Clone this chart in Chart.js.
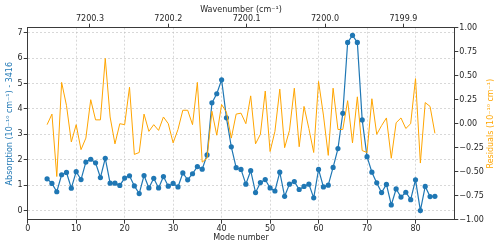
<!DOCTYPE html>
<html>
<head>
<meta charset="utf-8">
<script src="https://cdn.jsdelivr.net/npm/chart.js@4"></script>
<style>
  html, body { margin: 0; padding: 0; background: #fff; }
  canvas { display: block; }
</style>
</head>
<body>
<canvas id="modeChart" width="500" height="246"></canvas>
<script>
// values
const modes = [4, 5, 6, 7, 8, 9, 10, 11, 12, 13, 14, 15, 16, 17, 18, 19, 20, 21, 22, 23, 24,
  25, 26, 27, 28, 29, 30, 31, 32, 33, 34, 35, 36, 37, 38, 39, 40, 41, 42, 43, 44, 45, 46,
  47, 48, 49, 50, 51, 52, 53, 54, 55, 56, 57, 58, 59, 60, 61, 62, 63, 64, 65, 66, 67, 68,
  69, 70, 71, 72, 73, 74, 75, 76, 77, 78, 79, 80, 81, 82, 83, 84];
const absorption = [1.25, 1.07, 0.74, 1.41, 1.50, 0.88, 1.53, 1.22, 1.91, 2.02, 1.88, 1.30,
  2.06, 1.08, 1.08, 0.99, 1.28, 1.37, 0.97, 0.67, 1.38, 0.89, 1.27, 0.89, 1.34, 0.96, 1.07,
  0.93, 1.48, 1.21, 1.45, 1.73, 1.63, 2.19, 4.24, 4.60, 5.15, 3.65, 2.51, 1.69, 1.62, 1.04,
  1.57, 0.71, 1.10, 1.22, 0.89, 0.77, 1.51, 0.56, 1.04, 1.14, 0.83, 0.95, 1.04, 0.50, 1.62,
  0.93, 1.00, 1.70, 2.44, 3.83, 6.62, 6.90, 6.62, 3.57, 2.12, 1.51, 1.09, 0.71, 1.03, 0.22,
  0.85, 0.53, 0.72, 0.43, 1.21, 0.00, 0.95, 0.55, 0.56];
const residuals = [-0.01, 0.10, -0.55, 0.43, 0.19, -0.19, -0.01, -0.27, -0.15, 0.25, 0.04,
  0.04, 0.68, 0.07, -0.21, 0.00, -0.01, 0.38, -0.32, -0.30, 0.10, -0.08, -0.01, -0.07, 0.07,
  0.00, -0.20, -0.06, 0.14, 0.14, -0.01, 0.43, -0.40, -0.36, 0.13, -0.12, 0.20, 0.12, -0.15,
  0.10, 0.11, 0.00, 0.29, -0.21, -0.11, 0.34, -0.29, -0.08, 0.36, -0.25, -0.07, 0.37, -0.24,
  0.18, -0.05, -0.30, 0.44, 0.09, -0.33, 0.37, -0.06, -0.06, 0.24, -0.20, 0.28, -0.28, -0.30,
  0.26, -0.11, -0.02, 0.06, -0.36, 0.01, 0.06, -0.05, 0.00, 0.47, -0.41, 0.22, 0.18, -0.10];

const modeTicks = [0, 10, 20, 30, 40, 50, 60, 70, 80];
const absTicks = [0, 1, 2, 3, 4, 5, 6, 7];
const resTicks = [-1, -0.75, -0.5, -0.25, 0, 0.25, 0.5, 0.75, 1];
const waveTicks = [7200.3, 7200.2, 7200.1, 7200.0, 7199.9];

const blue = '#1f77b4';
const orange = '#ffa500';
const ink = '#262626';
const spine = '#3a3a3a';
const font = { family: 'DejaVu Sans', size: 8 };

function useTicks(list) {
  return function(scale) { scale.ticks = list.map(v => ({ value: v })); };
}
const minus = s => s.replace('-', '\u2212');

// right hand label reads bottom to top, like matplotlib
const residualLabel = {
  id: 'residualLabel',
  afterDraw(chart) {
    const ctx = chart.ctx, a = chart.chartArea;
    ctx.save();
    ctx.translate(490.5, (a.top + a.bottom) / 2);
    ctx.rotate(-Math.PI / 2);
    ctx.font = '8px "DejaVu Sans"';
    ctx.fillStyle = orange;
    ctx.textAlign = 'center';
    ctx.textBaseline = 'middle';
    ctx.fillText('Residuals (10\u207B\u00B9\u2070 cm\u207B\u00B9)', 0, 0);
    ctx.restore();
  }
};

const ctx = document.getElementById('modeChart').getContext('2d');
new Chart(ctx, {
  type: 'line',
  data: {
    datasets: [{
      label: 'Residuals',
      data: modes.map((m, i) => ({ x: m, y: residuals[i] })),
      xAxisID: 'x',
      yAxisID: 'y2',
      borderColor: orange,
      borderWidth: 1,
      pointRadius: 0,
      tension: 0,
      order: 0
    }, {
      label: 'Absorption',
      data: modes.map((m, i) => ({ x: m, y: absorption[i] })),
      xAxisID: 'x',
      yAxisID: 'y',
      borderColor: blue,
      backgroundColor: blue,
      borderWidth: 1.2,
      pointRadius: 2.6,
      pointBorderWidth: 0,
      pointBackgroundColor: blue,
      tension: 0,
      order: 1
    }]
  },
  options: {
    responsive: false,
    animation: false,
    events: [],
    layout: { padding: 0 },
    plugins: { legend: { display: false }, tooltip: { enabled: false } },
    scales: {
      x: {
        type: 'linear', position: 'bottom', min: 0, max: 88,
        afterBuildTicks: useTicks(modeTicks),
        afterFit: s => { s.height = 26.3; },
        grid: { color: 'rgba(190,190,190,0.6)', tickLength: 4, tickColor: spine, tickWidth: 1 },
        border: { color: spine, width: 1, dash: [2, 2] },
        ticks: { font: font, color: ink, padding: 0, maxRotation: 0 },
        title: { display: true, text: 'Mode number', font: font, color: ink, padding: { top: 0, bottom: 3 } }
      },
      x2: {
        type: 'linear', position: 'top', min: 7199.835, max: 7200.3795, reverse: true,
        afterBuildTicks: useTicks(waveTicks),
        afterFit: s => { s.height = 27.7; },
        grid: { drawOnChartArea: false, tickLength: 4, tickColor: spine, tickWidth: 1 },
        border: { color: spine, width: 1 },
        ticks: { font: font, color: ink, padding: 0, maxRotation: 0, callback: v => v.toFixed(1) },
        title: { display: true, text: 'Wavenumber (cm\u207B\u00B9)', font: font, color: ink, padding: { top: 5, bottom: 0 } }
      },
      y: {
        type: 'linear', position: 'left', min: -0.36, max: 7.2,
        afterBuildTicks: useTicks(absTicks),
        afterFit: s => { s.width = 27.7; },
        grid: { color: 'rgba(190,190,190,0.6)', tickLength: 4, tickColor: spine, tickWidth: 1 },
        border: { color: spine, width: 1, dash: [2, 2] },
        ticks: { font: font, color: ink, padding: 1 },
        title: { display: true, text: 'Absorption (10\u207B\u00B9\u2070 cm\u207B\u00B9) - 3416', font: font, color: blue, padding: { top: 5, bottom: 0 } }
      },
      y2: {
        type: 'linear', position: 'right', min: -1, max: 1,
        afterBuildTicks: useTicks(resTicks),
        afterFit: s => { s.width = 45.7; },
        grid: { drawOnChartArea: false, tickLength: 4, tickColor: spine, tickWidth: 1 },
        border: { color: spine, width: 1 },
        ticks: { font: font, color: ink, padding: 1, callback: v => minus(v.toFixed(2)) }
      }
    }
  },
  plugins: [residualLabel]
});
</script>
</body>
</html>
